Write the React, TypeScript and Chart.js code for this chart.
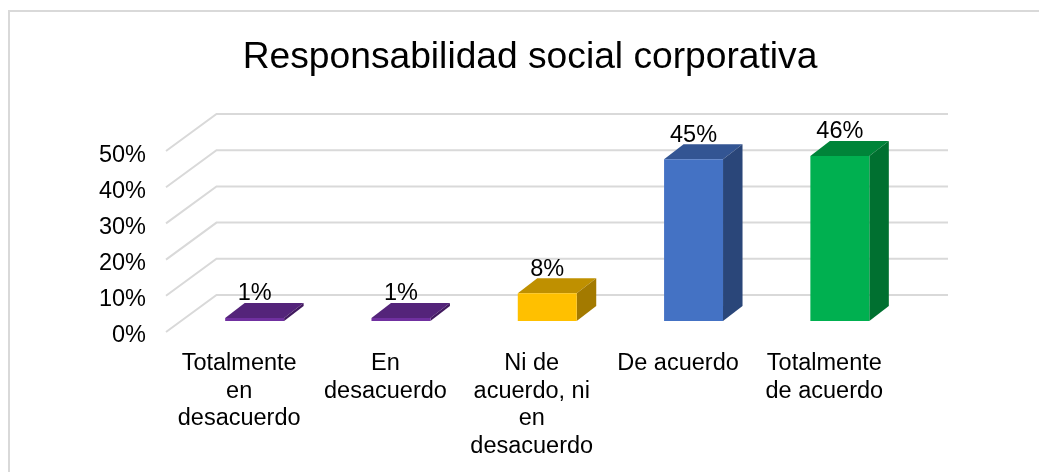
import React, { useEffect, useRef } from "react";
import { Chart, registerables } from "chart.js";

Chart.register(...registerables);

const titleText = "Responsabilidad social corporativa";
const categories = [
  ["Totalmente", "en", "desacuerdo"],
  ["En", "desacuerdo"],
  ["Ni de", "acuerdo, ni", "en", "desacuerdo"],
  ["De acuerdo"],
  ["Totalmente", "de acuerdo"],
];
const values = [0.0085, 0.0085, 0.077, 0.447, 0.456];
const valueLabels = ["1%", "1%", "8%", "45%", "46%"];
const frontColors = ["#7030a0", "#7030a0", "#ffc000", "#4472c4", "#00b050"];
const topColors = ["#54247a", "#54247a", "#bf9000", "#335593", "#008439"];
const sideColors = ["#41195f", "#41195f", "#a37a00", "#2a4679", "#007030"];

const FONT = "'Liberation Sans', Arial, sans-serif";
const LABEL_SIZE = 23.5;
const WALL = { x: 50.5, y: -37 };
const BAR_PLANE = { x: 15.5, y: -11 };
const BAR_DEPTH = { x: 19.5, y: -15 };

const poly = (ctx: CanvasRenderingContext2D, pts: number[][], fill: string) => {
  ctx.beginPath();
  pts.forEach(([x, y], i) => (i ? ctx.lineTo(x, y) : ctx.moveTo(x, y)));
  ctx.closePath();
  ctx.fillStyle = fill;
  ctx.fill();
};

const depth3d = {
  id: "depth3d",
  afterLayout(chart: any) {
    chart.titleBlock.right -= 3.4;
  },
  beforeDatasetsDraw(chart: any) {
    const { ctx, chartArea, scales } = chart;
    ctx.save();
    ctx.strokeStyle = "#d9d9d9";
    ctx.lineWidth = 2;
    scales.y.ticks.forEach((_: any, i: number) => {
      const y = scales.y.getPixelForTick(i);
      ctx.beginPath();
      ctx.moveTo(chartArea.left, y);
      ctx.lineTo(chartArea.left + WALL.x, y + WALL.y);
      ctx.lineTo(chartArea.right + WALL.x, y + WALL.y);
      ctx.stroke();
    });
    ctx.restore();
    ctx.save();
    ctx.translate(BAR_PLANE.x, BAR_PLANE.y);
    chart.getDatasetMeta(0).data.forEach((bar: any, i: number) => {
      const { x, y, base, width } = bar.getProps(["x", "y", "base", "width"], true);
      const l = x - width / 2;
      const r = x + width / 2;
      poly(ctx, [[l, y], [r, y], [r + BAR_DEPTH.x, y + BAR_DEPTH.y], [l + BAR_DEPTH.x, y + BAR_DEPTH.y]], topColors[i]);
      poly(ctx, [[r, y], [r + BAR_DEPTH.x, y + BAR_DEPTH.y], [r + BAR_DEPTH.x, base + BAR_DEPTH.y], [r, base]], sideColors[i]);
    });
  },
  afterDatasetsDraw(chart: any) {
    const { ctx } = chart;
    ctx.font = `${LABEL_SIZE}px ${FONT}`;
    ctx.fillStyle = "#000";
    ctx.textAlign = "center";
    ctx.textBaseline = "middle";
    chart.getDatasetMeta(0).data.forEach((bar: any, i: number) => {
      const { x, y } = bar.getProps(["x", "y"], true);
      ctx.fillText(valueLabels[i], x, y - 24);
    });
    ctx.restore();
  },
};

export default function App() {
  const ref = useRef<HTMLCanvasElement>(null);
  useEffect(() => {
    const chart = new Chart(ref.current as HTMLCanvasElement, {
      type: "bar",
      data: {
        labels: categories,
        datasets: [
          {
            data: values,
            backgroundColor: frontColors,
            barPercentage: 0.403,
            categoryPercentage: 1,
          },
        ],
      },
      options: {
        responsive: false,
        animation: false,
        layout: { padding: { left: 0, right: 141.5, top: 0, bottom: 0 } },
        plugins: {
          legend: { display: false },
          tooltip: { enabled: false },
          title: {
            display: true,
            text: titleText,
            fullSize: false,
            color: "#000",
            font: { family: FONT, size: 37.2, weight: "normal", lineHeight: 1.2 },
            padding: { top: 35.7, bottom: 70.7 },
          },
        },
        scales: {
          x: {
            grid: { display: false },
            border: { display: false },
            afterFit: (s: any) => {
              s.height = 140;
            },
            ticks: {
              autoSkip: false,
              maxRotation: 0,
              minRotation: 0,
              padding: 9.5,
              color: "#000",
              font: { family: FONT, size: LABEL_SIZE, lineHeight: 1.18 },
            },
          },
          y: {
            min: 0,
            max: 0.5,
            grid: { display: false },
            border: { display: false },
            afterFit: (s: any) => {
              s.width = 166;
            },
            ticks: {
              stepSize: 0.1,
              padding: 12,
              labelOffset: 4,
              color: "#000",
              font: { family: FONT, size: LABEL_SIZE },
              callback: (v: any) => `${Math.round(Number(v) * 100)}%`,
            },
          },
        },
      },
      plugins: [depth3d],
    } as any);
    return () => chart.destroy();
  }, []);
  return (
    <div style={{ position: "absolute", left: 0, top: 0, width: 1039, height: 472, overflow: "hidden", background: "#fff" }}>
      <div
        style={{
          position: "absolute",
          left: 8,
          top: 10,
          right: 0,
          bottom: 0,
          borderLeft: "2px solid #d9d9d9",
          borderTop: "2px solid #d9d9d9",
        }}
      />
      <canvas ref={ref} width={1039} height={472} style={{ position: "absolute", left: 0, top: 0, display: "block" }} />
    </div>
  );
}
